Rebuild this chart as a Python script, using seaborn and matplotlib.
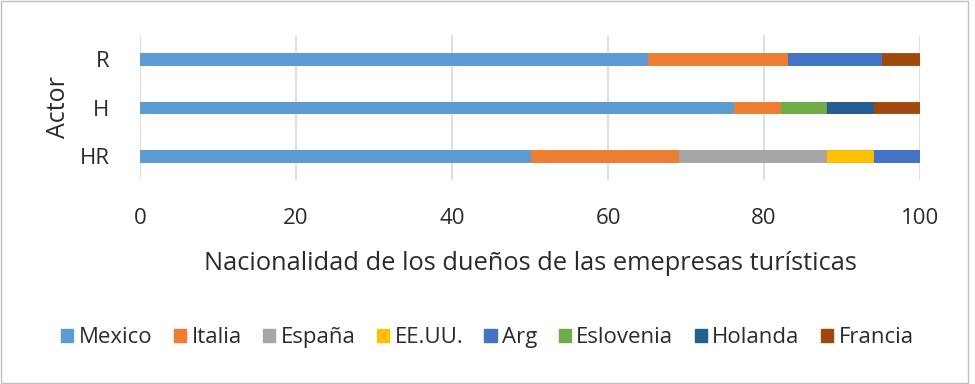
import pandas as pd
import matplotlib.pyplot as plt
import seaborn as sns
from matplotlib.patches import Rectangle, Patch

# data
actors = ["R", "H", "HR"]
countries = ["Mexico", "Italia", "España", "EE.UU.", "Arg", "Eslovenia", "Holanda", "Francia"]
mexico = [65, 76, 50]
italia = [18, 6, 19]
espana = [0, 0, 19]
eeuu = [0, 0, 6]
arg = [12, 0, 6]
eslovenia = [0, 6, 0]
holanda = [0, 6, 0]
francia = [5, 6, 0]

colors = ["#5B9BD5", "#ED7D31", "#A5A5A5", "#FFC000", "#4472C4", "#70AD47", "#255E91", "#9E480E"]

df = pd.DataFrame({"Actor": actors, "Mexico": mexico, "Italia": italia, "España": espana,
                   "EE.UU.": eeuu, "Arg": arg, "Eslovenia": eslovenia,
                   "Holanda": holanda, "Francia": francia})
cum = df[countries].cumsum(axis=1)
cum["Actor"] = df["Actor"]

sns.set_style("white")
plt.rcParams["font.family"] = ["Open Sans", "DejaVu Sans"]

fig = plt.figure(figsize=(9.75, 3.84), dpi=100)
ax = fig.add_axes([0.1436, 0.531, 0.8, 0.378])

# stacked bars: draw cumulative totals from last to first so each overlaps the next
for country, color in reversed(list(zip(countries, colors))):
    sns.barplot(data=cum, x=country, y="Actor", order=actors, color=color,
                width=0.24, orient="h", ax=ax, saturation=1,
                edgecolor=color, linewidth=0.6)

ax.set_xlim(0, 100)
ax.set_ylim(2.5, -0.5)
ax.set_xticks(range(0, 101, 20))
ax.tick_params(axis="both", labelsize=16, length=0, colors="#2b2b2b")
ax.tick_params(axis="x", pad=20)
ax.tick_params(axis="y", pad=22)
ax.grid(axis="x", color="#D9D9D9", linewidth=1.2)
ax.set_axisbelow(True)
for s in ax.spines.values():
    s.set_visible(False)

ax.set_xlabel("Nacionalidad de los dueños de las emepresas turísticas", fontsize=18.3,
              color="#2b2b2b", labelpad=16)
ax.set_ylabel("Actor", fontsize=18, color="#2b2b2b", labelpad=6)

handles = [Patch(facecolor=c, edgecolor=c) for c in colors]
fig.legend(handles, countries, loc="center", bbox_to_anchor=(0.5, 0.12), ncol=8,
           frameon=False, fontsize=16, handlelength=0.55, handleheight=0.55,
           handletextpad=0.25, columnspacing=0.95, labelcolor="#2b2b2b")

fig.add_artist(Rectangle((0.001, 0.003), 0.992, 0.994, transform=fig.transFigure,
                         fill=False, edgecolor="#BFBFBF", linewidth=1))

fig.savefig("out.png", dpi=100)
